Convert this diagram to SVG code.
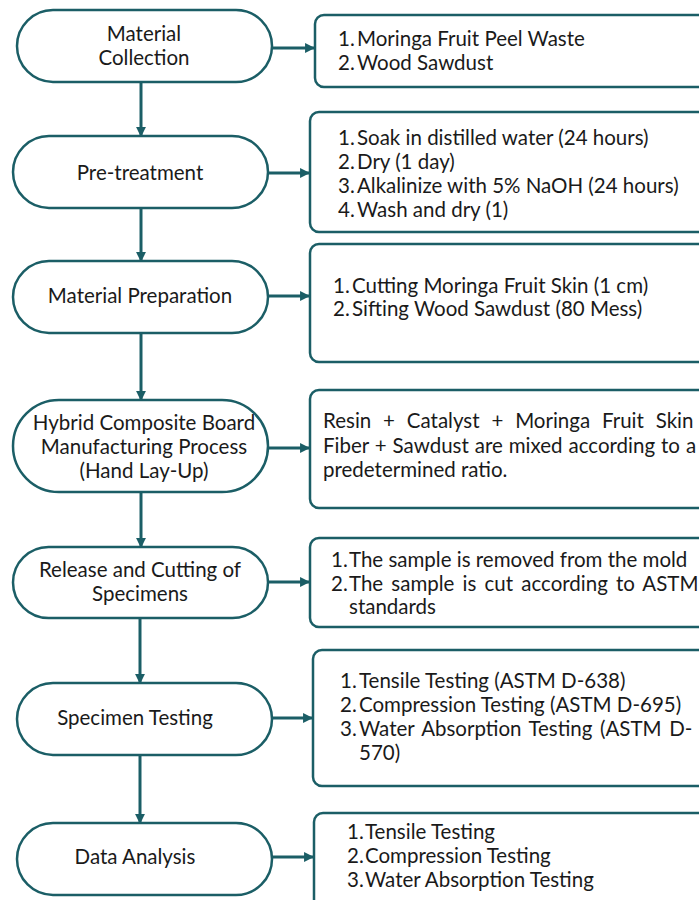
<svg xmlns="http://www.w3.org/2000/svg" width="699" height="900" viewBox="0 0 699 900">
<style>
.n{fill:#fff;stroke:#1b5e66;stroke-width:2.5}
.b{fill:#fff;stroke:#1b5e66;stroke-width:2.5}
.c{stroke:#1b5e66;stroke-width:3;fill:none;marker-end:url(#ah)}
text{font-family:Lato,"Noto Sans","Liberation Sans",sans-serif;font-size:20.5px;fill:#1a1a1a}
.m{text-anchor:middle}
</style>
<defs>
<marker id="ah" viewBox="0 0 10 10" refX="9" refY="5" markerWidth="3.3" markerHeight="3.3" orient="auto" markerUnits="strokeWidth">
<path d="M0,0 L10,5 L0,10 z" fill="#1b5e66"/>
</marker>
</defs>
<rect width="699" height="900" fill="#fff"/>
<g id="connectors">
<line class="c" x1="141" y1="82" x2="141" y2="136"/>
<line class="c" x1="141" y1="208" x2="141" y2="261"/>
<line class="c" x1="141" y1="333" x2="141" y2="400"/>
<line class="c" x1="141" y1="492" x2="141" y2="547"/>
<line class="c" x1="140" y1="618" x2="140" y2="683"/>
<line class="c" x1="140" y1="755" x2="140" y2="823"/>
<line class="c" x1="272" y1="48" x2="314" y2="48"/>
<line class="c" x1="268" y1="173" x2="309" y2="173"/>
<line class="c" x1="268" y1="296" x2="309" y2="296"/>
<line class="c" x1="268" y1="448" x2="309" y2="448"/>
<line class="c" x1="268" y1="582" x2="309" y2="582"/>
<line class="c" x1="272" y1="718" x2="312" y2="718"/>
<line class="c" x1="272" y1="857" x2="313" y2="857"/>
</g>
<g id="node1">
<rect class="n" x="17" y="10" width="255" height="72" rx="36"/>
<text class="m" x="144" y="41">Material</text>
<text class="m" x="144" y="65">Collection</text>
</g>
<g id="box1">
<rect class="b" x="315" y="15" width="400" height="72" rx="9"/>
<text x="338" y="46">1.</text><text x="357" y="46">Moringa Fruit Peel Waste</text>
<text x="338" y="70">2.</text><text x="357" y="70">Wood Sawdust</text>
</g>
<g id="node2">
<rect class="n" x="13" y="136" width="255" height="72" rx="36"/>
<text class="m" x="140" y="180">Pre-treatment</text>
</g>
<g id="box2">
<rect class="b" x="310" y="112" width="400" height="120" rx="9"/>
<text x="338" y="145">1.</text><text x="357" y="145">Soak in distilled water (24 hours)</text>
<text x="338" y="169">2.</text><text x="357" y="169">Dry (1 day)</text>
<text x="338" y="193">3.</text><text x="357" y="193">Alkalinize with 5% NaOH (24 hours)</text>
<text x="338" y="217">4.</text><text x="357" y="217">Wash and dry (1)</text>
</g>
<g id="node3">
<rect class="n" x="13" y="261" width="255" height="72" rx="36"/>
<text class="m" x="140" y="303">Material Preparation</text>
</g>
<g id="box3">
<rect class="b" x="310" y="244" width="400" height="118" rx="9"/>
<text x="333" y="293">1.</text><text x="352" y="293">Cutting Moringa Fruit Skin (1 cm)</text>
<text x="333" y="316">2.</text><text x="352" y="316">Sifting Wood Sawdust (80 Mess)</text>
</g>
<g id="node4">
<rect class="n" x="13" y="400" width="255" height="92" rx="46"/>
<text class="m" x="144" y="430">Hybrid Composite Board</text>
<text class="m" x="144" y="454">Manufacturing Process</text>
<text class="m" x="144" y="478">(Hand Lay-Up)</text>
</g>
<g id="box4">
<rect class="b" x="310" y="390" width="400" height="118" rx="9"/>
<text x="323" y="428" word-spacing="6.6">Resin + Catalyst + Moringa Fruit Skin</text>
<text x="323" y="453" word-spacing="0.7">Fiber + Sawdust are mixed according to a</text>
<text x="323" y="477">predetermined ratio.</text>
</g>
<g id="node5">
<rect class="n" x="13" y="547" width="255" height="71" rx="35.5"/>
<text class="m" x="140" y="577">Release and Cutting of</text>
<text class="m" x="140" y="601">Specimens</text>
</g>
<g id="box5">
<rect class="b" x="310" y="538" width="400" height="89" rx="9"/>
<text x="331" y="567">1.</text><text x="349" y="567">The sample is removed from the mold</text>
<text x="331" y="591">2.</text>
<text x="349" y="591" word-spacing="2.9">The sample is cut according to ASTM</text>
<text x="349" y="614">standards</text>
</g>
<g id="node6">
<rect class="n" x="17" y="683" width="255" height="72" rx="36"/>
<text class="m" x="135" y="725">Specimen Testing</text>
</g>
<g id="box6">
<rect class="b" x="313" y="650" width="400" height="136" rx="9"/>
<text x="340" y="688">1.</text><text x="359" y="688">Tensile Testing (ASTM D-638)</text>
<text x="340" y="712">2.</text><text x="359" y="712">Compression Testing (ASTM D-695)</text>
<text x="340" y="736">3.</text>
<text x="359" y="736" word-spacing="2.3">Water Absorption Testing (ASTM D-</text>
<text x="359" y="760">570)</text>
</g>
<g id="node7">
<rect class="n" x="17" y="823" width="255" height="72" rx="36"/>
<text class="m" x="135" y="864">Data Analysis</text>
</g>
<g id="box7">
<rect class="b" x="314" y="813" width="400" height="100" rx="9"/>
<text x="347" y="839">1.</text><text x="365" y="839">Tensile Testing</text>
<text x="347" y="863">2.</text><text x="365" y="863">Compression Testing</text>
<text x="347" y="887">3.</text><text x="365" y="887">Water Absorption Testing</text>
</g>
</svg>
